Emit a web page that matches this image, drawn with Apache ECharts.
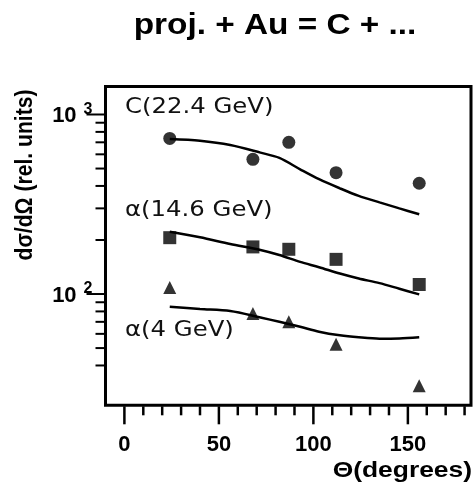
<!DOCTYPE html>
<html>
<head>
<meta charset="utf-8">
<script src="https://cdn.jsdelivr.net/npm/echarts@6/dist/echarts.min.js"></script>
<style>
html,body{margin:0;padding:0;background:#fff;}
#c{width:474px;height:491px;}
</style>
</head>
<body>
<div id="c"></div>
<script>
// ---- data ----
const titleText = 'proj. + Au = C + ...';
const yTitle = 'd\u03C3/d\u03A9 (rel. units)';
const xTitle = '\u0398(degrees)';
const seriesNames = ['C(22.4 GeV)', '\u03B1(14.6 GeV)', '\u03B1(4 GeV)'];

const pointAngles = [24, 68, 87, 112, 156];
const cPoints = [736, 563, 700, 474, 414];
const a146Points = [206, 183, 177.5, 156, 113];
const a4Points = [108.7, 78, 70, 52.5, 30.8];

const curveAngles = [24, 40, 56, 72, 82, 93, 103, 114, 124, 135, 145.5, 156];
const cCurve = [730, 714, 676, 613, 573, 495, 436, 388, 352, 324, 300, 278];
const a146Curve = [222, 207, 190, 176, 165, 151, 141, 130, 122, 115, 107, 99.6];
const a4Curve = [85, 82.5, 80.4, 74, 70, 65.7, 61.7, 58.9, 57.4, 56.4, 56.6, 57.4];

const xMin = -10, xMax = 183.4;
const yMin = 24, yMax = 1432;
const xLabelValues = [0, 50, 100, 150];
const xMajorTicks = [0, 50, 100, 150];
const xMinorTicks = [10, 20, 30, 40, 60, 70, 80, 90, 110, 120, 130, 140, 160, 170, 180];
const yMajorTicks = [100, 1000];
const yMinorTicks = [40, 50, 60, 70, 80, 90, 200, 300, 400, 500, 600, 700, 800, 900];

const pairs = (xs, ys) => xs.map((x, i) => [x, ys[i]]);

function xTickSeries(vals, len) {
  return {
    type: 'custom', silent: true, z: 10,
    data: vals.map(v => [v, yMin]),
    renderItem: function (params, api) {
      const p = api.coord([api.value(0), yMin]);
      return { type: 'line', shape: { x1: p[0], y1: p[1] + 1, x2: p[0], y2: p[1] + len },
        style: { stroke: '#000', lineWidth: 2.5 } };
    }
  };
}
function yTickSeries(vals, len) {
  return {
    type: 'custom', silent: true, z: 10,
    data: vals.map(v => [xMin, v]),
    renderItem: function (params, api) {
      const p = api.coord([xMin, api.value(1)]);
      return { type: 'line', shape: { x1: p[0] - 1, y1: p[1], x2: p[0] - len, y2: p[1] },
        style: { stroke: '#000', lineWidth: 2 } };
    }
  };
}

const lineStyle = { color: '#000', width: 2.5 };
const txtFont = '"DejaVu Sans"';
const boldFont = '"Liberation Sans", Arial, sans-serif';

const chart = echarts.init(document.getElementById('c'), null, { renderer: 'canvas' });
chart.setOption({
  animation: false,
  backgroundColor: '#fff',
  grid: { left: 105.5, top: 86.5, right: 2.3, bottom: 85.7, show: true,
          borderColor: '#000', borderWidth: 3, backgroundColor: 'transparent' },
  xAxis: {
    type: 'value', min: xMin, max: xMax, interval: 10,
    axisLine: { show: false }, axisTick: { show: false }, splitLine: { show: false },
    axisLabel: {
      margin: 29, color: '#000', fontSize: 22, fontWeight: 'bold', fontFamily: boldFont,
      formatter: v => (xLabelValues.indexOf(Math.round(v)) >= 0 && Math.abs(v - Math.round(v)) < 1e-6) ? String(Math.round(v)) : ''
    }
  },
  yAxis: {
    type: 'log', logBase: 10, min: yMin, max: yMax,
    axisLine: { show: false }, axisTick: { show: false }, splitLine: { show: false },
    axisLabel: {
      margin: 13, showMinLabel: false, showMaxLabel: false,
      formatter: v => {
        const e = Math.round(Math.log10(v));
        if (Math.abs(Math.log10(v) - e) < 1e-6 && (e === 2 || e === 3)) return '{a|10}{s|' + e + '}';
        return '';
      },
      rich: {
        a: { fontSize: 22, fontWeight: 'bold', fontFamily: boldFont, color: '#000', lineHeight: 26, padding: [3, 0, 0, 0] },
        s: { fontSize: 16, fontWeight: 'bold', fontFamily: boldFont, color: '#000', lineHeight: 16,
             verticalAlign: 'top', padding: [0, 0, 0, 7] }
      }
    }
  },
  series: [
    { type: 'line', name: seriesNames[0] + ' curve', data: pairs(curveAngles, cCurve), smooth: 0.3,
      showSymbol: false, lineStyle: lineStyle, z: 3 },
    { type: 'line', name: seriesNames[1] + ' curve', data: pairs(curveAngles, a146Curve), smooth: 0.3,
      showSymbol: false, lineStyle: lineStyle, z: 3 },
    { type: 'line', name: seriesNames[2] + ' curve', data: pairs(curveAngles, a4Curve), smooth: 0.3,
      showSymbol: false, lineStyle: lineStyle, z: 3 },
    { type: 'scatter', name: seriesNames[0], data: pairs(pointAngles, cPoints), symbol: 'circle',
      symbolSize: 13, itemStyle: { color: '#000' }, z: 4 },
    { type: 'scatter', name: seriesNames[1], data: pairs(pointAngles, a146Points), symbol: 'rect',
      symbolSize: 13, itemStyle: { color: '#000' }, z: 4 },
    { type: 'scatter', name: seriesNames[2], data: pairs(pointAngles, a4Points), symbol: 'triangle',
      symbolSize: 13, itemStyle: { color: '#000' }, z: 4 },
    xTickSeries(xMajorTicks, 19),
    xTickSeries(xMinorTicks, 10),
    yTickSeries(yMajorTicks, 19),
    yTickSeries(yMinorTicks, 10)
  ],
  graphic: [
    { type: 'text', x: 275, y: 26, scaleX: 1.15,
      style: { text: titleText, font: 'bold 29px ' + boldFont, fill: '#000',
               textAlign: 'center', align: 'center', textVerticalAlign: 'middle', verticalAlign: 'middle' } },
    { type: 'text', x: 25, y: 175, rotation: Math.PI / 2, scaleX: 0.88,
      style: { text: yTitle, font: 'bold 24px ' + boldFont, fill: '#000',
               textAlign: 'center', align: 'center', textVerticalAlign: 'middle', verticalAlign: 'middle' } },
    { type: 'text', x: 472, y: 471, scaleX: 1.2,
      style: { text: xTitle, font: 'bold 22px ' + boldFont, fill: '#000',
               textAlign: 'right', align: 'right', textVerticalAlign: 'middle', verticalAlign: 'middle' } },
    { type: 'text', x: 125, y: 108, scaleX: 1.16,
      style: { text: seriesNames[0], font: '21px ' + txtFont, fill: '#111',
               textAlign: 'left', align: 'left', textVerticalAlign: 'middle', verticalAlign: 'middle' } },
    { type: 'text', x: 125, y: 211, scaleX: 1.16,
      style: { text: seriesNames[1], font: '21px ' + txtFont, fill: '#111',
               textAlign: 'left', align: 'left', textVerticalAlign: 'middle', verticalAlign: 'middle' } },
    { type: 'text', x: 125, y: 331, scaleX: 1.16,
      style: { text: seriesNames[2], font: '21px ' + txtFont, fill: '#111',
               textAlign: 'left', align: 'left', textVerticalAlign: 'middle', verticalAlign: 'middle' } }
  ]
});
</script>
</body>
</html>
